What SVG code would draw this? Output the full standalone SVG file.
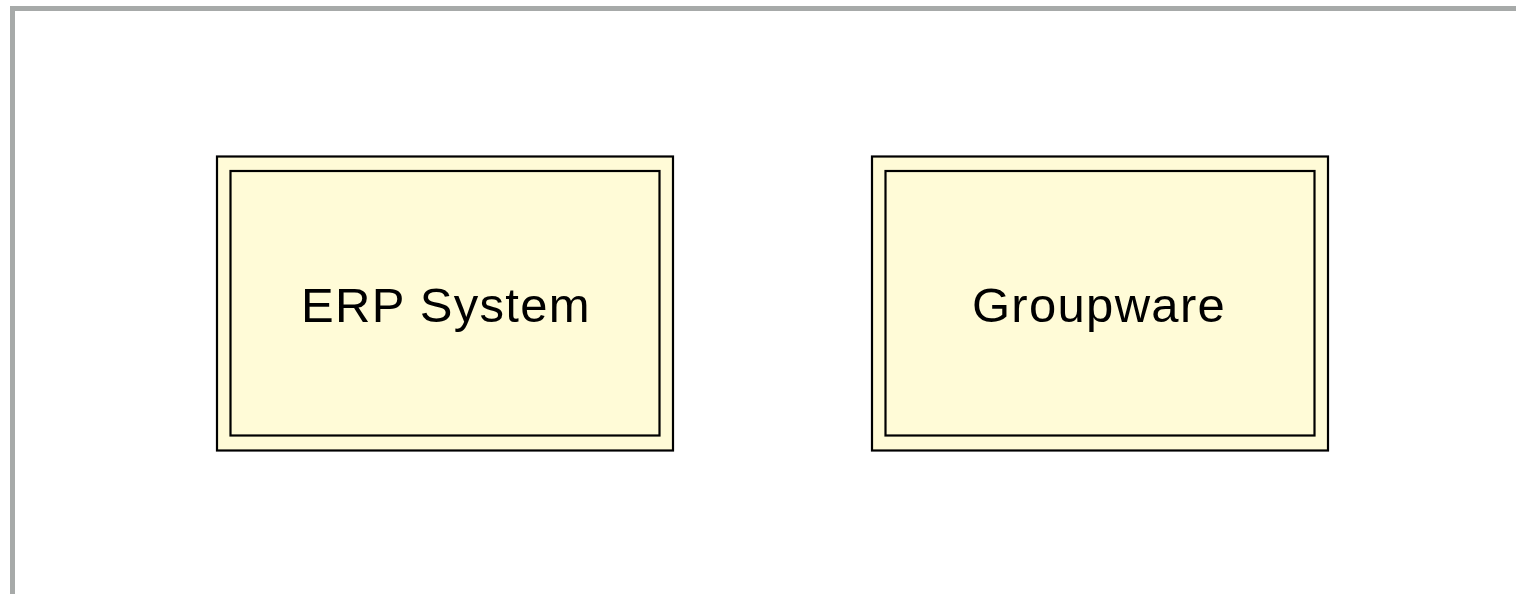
<svg xmlns="http://www.w3.org/2000/svg" width="1516" height="594" viewBox="0 0 1516 594">
<style>
.frame{fill:none;stroke:#a7aaa9;stroke-width:5}
.outer{fill:#fffbd7;stroke:#000;stroke-width:2.2}
.inner{fill:#fffbd7;stroke:#000;stroke-width:2.2}
.label{font-family:"Liberation Sans",Arial,sans-serif;font-size:49px;letter-spacing:1.3px;fill:#000;text-anchor:middle}
</style>
<rect width="1516" height="594" fill="#fff"/>
<rect class="frame" x="12.5" y="8.5" width="1520" height="600"/>
<g id="connectors"></g>
<g id="erp-system">
<rect class="outer" x="217" y="156.5" width="456" height="294"/>
<rect class="inner" x="230.5" y="171" width="429" height="264.5"/>
<text class="label" x="446" y="322">ERP System</text>
</g>
<g id="groupware">
<rect class="outer" x="872" y="156.5" width="456" height="294"/>
<rect class="inner" x="885.5" y="171" width="429" height="264.5"/>
<text class="label" x="1099" y="322">Groupware</text>
</g>
</svg>
